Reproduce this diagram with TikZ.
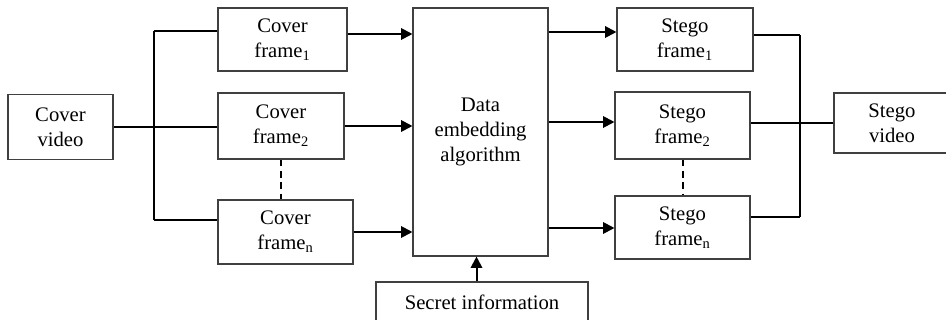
\documentclass[tikz,border=0pt]{standalone}
\usepackage{fontspec}
\setmainfont{Liberation Serif}
\usetikzlibrary{calc,arrows.meta}
\tikzset{
	blk/.style={draw=black!75, line width=0.8pt, align=center, inner sep=0pt},
	boxsize/.style 2 args={minimum width=#1*0.75pt, minimum height=#2*0.75pt},
	wire/.style={line width=1.5pt},
	arr/.style={line width=1.5pt, -{Triangle[length=8.5pt,width=8.5pt]}},
	dots/.style={line width=1.5pt, dash pattern=on 5pt off 3.5pt}
}

\begin{document}
\begin{tikzpicture}[x=0.75pt, y=-0.75pt, font=\fontsize{15.5}{18.75}\selectfont]
		%%%%% START %%%%%
		\useasboundingbox (0,0) rectangle (946,320);
		\clip (0,0) rectangle (946,320);
		
		\node[blk, boxsize={105}{65}] (cvid) at (60.5, 127) {Cover\\video};
		
		\node[blk, boxsize={129}{63}] (cf1) at (282.5, 39.5) {Cover\\frame\textsubscript{1}};
		\node[blk, boxsize={126}{66}] (cf2) at (281, 126) {Cover\\frame\textsubscript{2}};
		\node[blk, boxsize={135}{64}] (cfn) at (285.5, 232) {Cover\\frame\textsubscript{n}};
		
		\node[blk, boxsize={135}{248}] (dea) at (480.5, 132) {Data\\embedding\\algorithm};
		\node[blk, boxsize={212}{40}] (sinf) at (482, 302) {Secret information};
		
		\node[blk, boxsize={136}{63}] (sf1) at (685, 39.5) {Stego\\frame\textsubscript{1}};
		\node[blk, boxsize={135}{67}] (sf2) at (682.5, 125.5) {Stego\\frame\textsubscript{2}};
		\node[blk, boxsize={135}{63}] (sfn) at (682.5, 227.5) {Stego\\frame\textsubscript{n}};
		
		\node[blk, boxsize={116}{60}] (svid) at (892, 123) {Stego\\video};
		
		% split into frames
		\coordinate (lbt) at (154, 31);
		\coordinate (lbb) at (154, 220);
		\draw[wire] (lbt) -- (lbb);
		\draw[wire] (cvid.east) -- (cvid.east -| cf2.west);
		\draw[wire] (lbt) -- (lbt -| cf1.west);
		\draw[wire] (lbb) -- (lbb -| cfn.west);
		\draw[dots] (cf2.south) -- (cf2.south |- cfn.north);
		
		% into the embedding block
		\draw[arr] ($(cf1.east)+(0,-5.5)$) -- ($(cf1.east -| dea.west)+(0,-5.5)$);
		\draw[arr] (cf2.east) -- (cf2.east -| dea.west);
		\draw[arr] (cfn.east) -- (cfn.east -| dea.west);
		\draw[arr] ($(sinf.north -| dea.south)+(-4,0)$) -- ($(dea.south)+(-4,0)$);
		
		% out of it
		\coordinate (o1) at (0, 32);
		\coordinate (o2) at (0, 122);
		\coordinate (o3) at (0, 228);
		\draw[arr] (dea.east |- o1) -- (sf1.west |- o1);
		\draw[arr] (dea.east |- o2) -- (sf2.west |- o2);
		\draw[arr] (dea.east |- o3) -- (sfn.west |- o3);
		
		% join into video
		\coordinate (rbt) at (800, 35);
		\coordinate (rbb) at (800, 217);
		\draw[wire] (rbt) -- (rbb);
		\draw[wire] (sf1.east |- rbt) -- (rbt);
		\draw[wire] (sfn.east |- rbb) -- (rbb);
		\draw[wire] (sf2.east |- svid.west) -- (svid.west);
		\draw[dots] (sf2.south) -- (sf2.south |- sfn.north);
		%%%%% END %%%%%
	\end{tikzpicture}
\end{document}
